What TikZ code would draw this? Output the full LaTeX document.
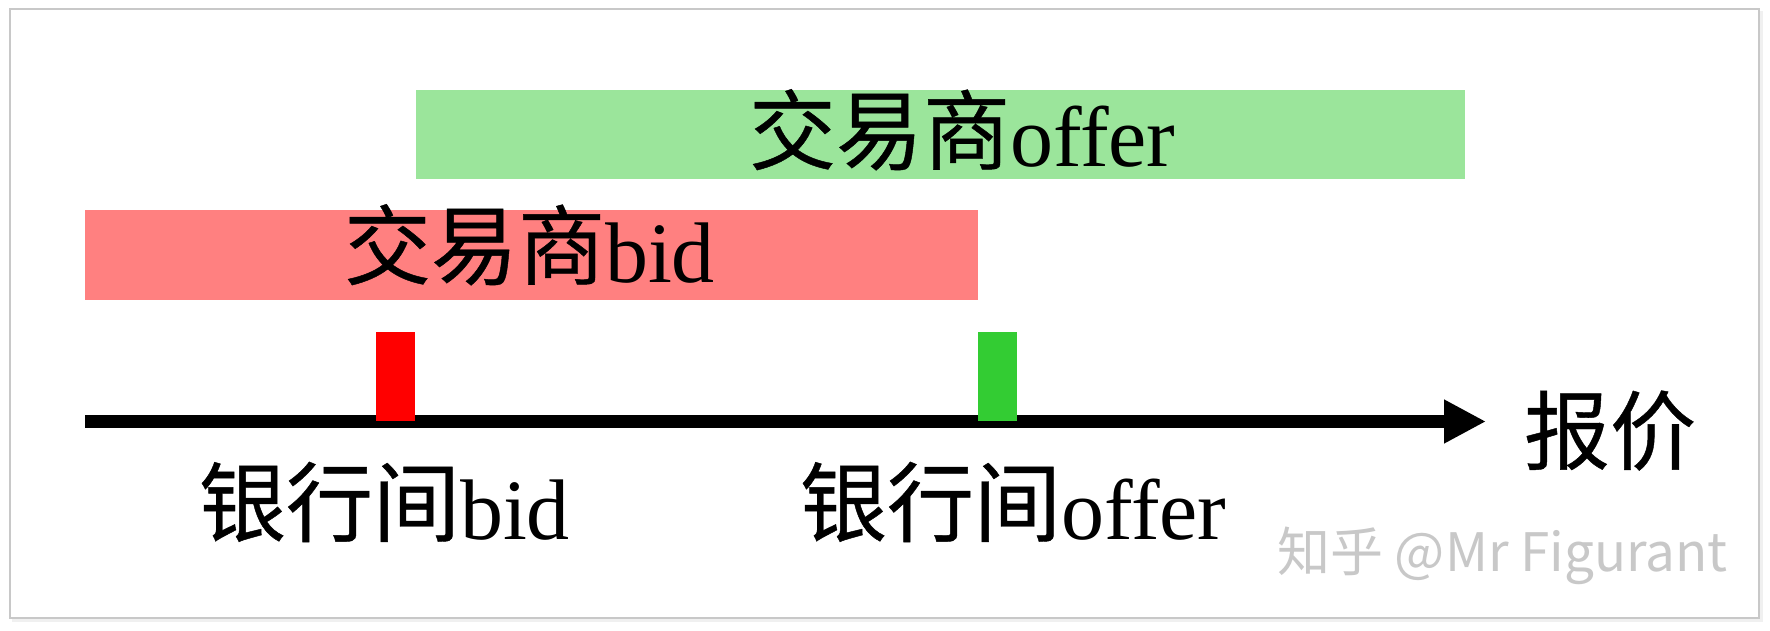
\documentclass[tikz,border=0pt]{standalone}
\usepackage{fontspec}
\setmainfont{Liberation Serif}
\newfontfamily\cjk[FakeBold=0.5]{Noto Sans CJK SC}
\newfontfamily\wmfont{Noto Sans CJK SC}
\newcommand\cjtext[1]{\raisebox{4pt}{\cjk\fontsize{87}{100}\selectfont #1}}
\usetikzlibrary{arrows.meta}
\definecolor{barred}{RGB}{255,128,128}
\definecolor{bargreen}{RGB}{155,229,155}
\definecolor{tickred}{RGB}{255,0,0}
\definecolor{tickgreen}{RGB}{51,204,51}
\definecolor{frameline}{RGB}{200,200,200}
\definecolor{wmgray}{RGB}{200,200,200}
\tikzset{
  bar/.style={draw=none, inner sep=0pt, outer sep=0pt, anchor=north west},
  tickbox/.style={draw=none, inner sep=0pt, outer sep=0pt, anchor=north west, minimum width=39pt, minimum height=89pt},
  label/.style={inner sep=0pt, outer sep=0pt, anchor=base west, font=\fontsize{86}{100}\selectfont},
  wmark/.style={inner sep=0pt, outer sep=0pt, anchor=base west, text=wmgray, font=\wmfont\fontsize{53}{60}\selectfont},
}
\begin{document}
\begin{tikzpicture}[x=1pt, y=-1pt]
\useasboundingbox (0,0) rectangle (1770,631);
\fill[white] (0,0) rectangle (1770,631);
% frame with soft shadow
\fill[black!12] (13,12) rectangle (1762,621);
\fill[black!6] (12,11) rectangle (1763,622);
\draw[frameline, line width=1.2pt, fill=white] (10,9) rectangle (1759,618);
% bars
\node[bar, fill=bargreen, minimum width=1049pt, minimum height=89pt] (gbar) at (416,90) {};
\node[bar, fill=barred, minimum width=893pt, minimum height=90pt] (rbar) at (85,210) {};
\node[label] (goffer) at (749,167) {\cjtext{交易商}offer};
\node[label] (rbid) at (344,282) {\cjtext{交易商}bid};
% axis
\coordinate (axstart) at (85,421.5);
\coordinate (axend) at (1486,421.5);
\draw[line width=13pt, -{Triangle[length=42pt, width=41pt]}] (axstart) -- (axend);
% ticks
\node[tickbox, fill=tickred] (rtick) at (376,332) {};
\node[tickbox, fill=tickgreen] (gtick) at (978,332) {};
% labels
\node[label] (price) at (1524,463) {{\cjk 报价}};
\node[label] (ibid) at (199,539) {\cjtext{银行间}bid};
\node[label] (ioffer) at (800,539) {\cjtext{银行间}offer};
\node[wmark] (wm) at (1277,571) {知乎 @Mr Figurant};
\end{tikzpicture}
\end{document}
